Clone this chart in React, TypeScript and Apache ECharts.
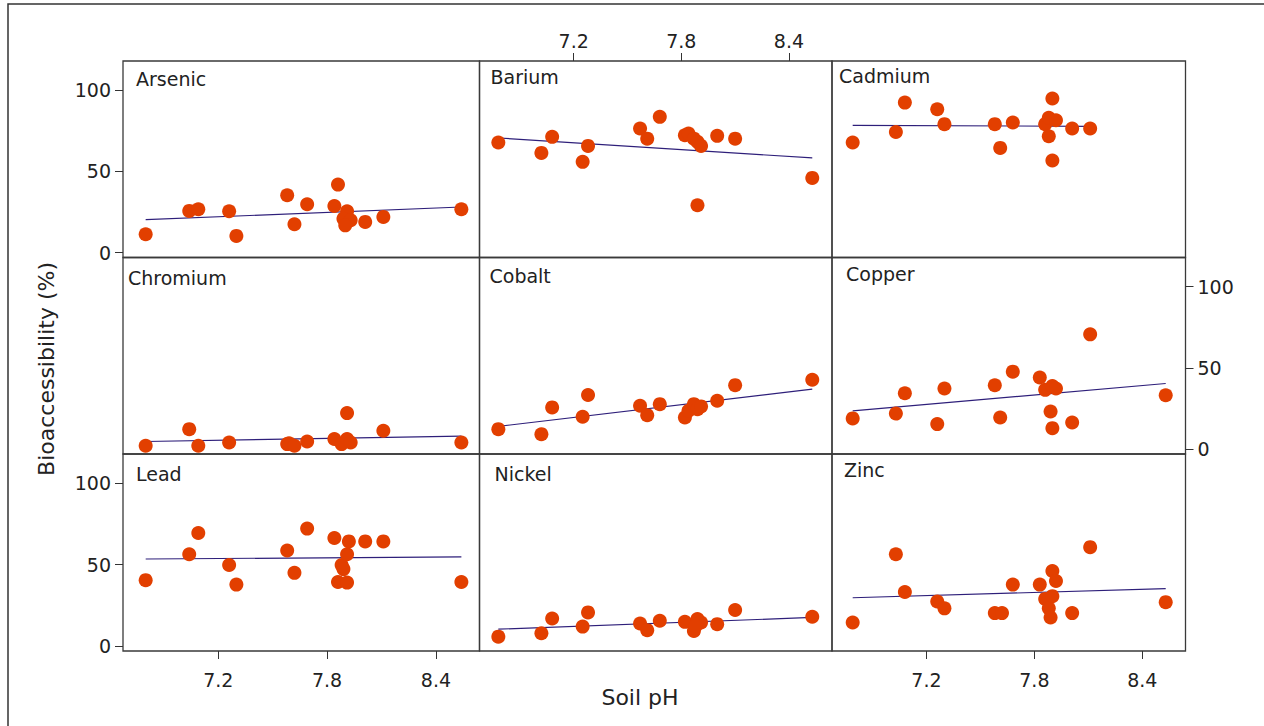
import React, { useEffect, useRef } from "react";
import * as echarts from "echarts";

// ---- data ----
const elements = ["Arsenic", "Barium", "Cadmium", "Chromium", "Cobalt", "Copper", "Lead", "Nickel", "Zinc"];

const phTicks = [7.2, 7.8, 8.4];
const bioTicks = [0, 50, 100];

// [soil pH, bioaccessibility %]
const arsenic = [
  [6.8, 11.3], [7.04, 25.7], [7.09, 26.7], [7.26, 25.5], [7.3, 10.3], [7.58, 35.3], [7.62, 17.5], [7.69, 29.8],
  [7.84, 28.7], [7.86, 41.9], [7.91, 25.5], [7.89, 20.9], [7.93, 19.9], [7.9, 16.8], [8.01, 18.9], [8.11, 22.0], [8.54, 26.7],
];
const barium = [
  [6.78, 67.8], [7.02, 61.4], [7.08, 71.3], [7.25, 55.9], [7.28, 65.7], [7.57, 76.4], [7.61, 70.2], [7.68, 83.6],
  [7.82, 72.3], [7.84, 73.3], [7.87, 70.2], [7.89, 68.2], [7.89, 29.2], [7.91, 65.7], [8.0, 71.9], [8.1, 70.2], [8.53, 46.0],
];
const cadmium = [
  [6.79, 67.8], [7.03, 74.3], [7.08, 92.4], [7.26, 88.3], [7.3, 79.1], [7.58, 79.1], [7.61, 64.5], [7.68, 80.1],
  [7.86, 79.1], [7.88, 83.0], [7.9, 94.9], [7.88, 71.7], [7.9, 56.7], [7.92, 81.5], [8.01, 76.4], [8.11, 76.4],
];
const chromium = [
  [6.8, 2.1], [7.04, 12.3], [7.09, 2.1], [7.26, 4.1], [7.58, 3.1], [7.59, 3.6], [7.62, 2.1], [7.69, 4.7],
  [7.84, 6.2], [7.88, 3.1], [7.91, 22.2], [7.91, 6.2], [7.93, 4.1], [8.11, 11.3], [8.54, 4.1],
];
const cobalt = [
  [6.78, 12.3], [7.02, 9.2], [7.08, 25.7], [7.25, 19.9], [7.28, 33.3], [7.57, 26.7], [7.61, 20.9], [7.68, 27.7],
  [7.82, 19.5], [7.84, 23.6], [7.87, 27.7], [7.89, 24.6], [7.91, 26.3], [8.0, 29.8], [8.1, 39.4], [8.53, 42.7],
];
const copper = [
  [6.79, 18.9], [7.03, 21.9], [7.08, 34.4], [7.26, 15.4], [7.3, 37.3], [7.58, 39.3], [7.61, 19.5], [7.68, 47.7],
  [7.83, 44.1], [7.86, 36.5], [7.9, 38.9], [7.92, 37.3], [7.89, 23.2], [7.9, 12.9], [8.01, 16.4], [8.11, 70.7], [8.53, 33.2],
];
const lead = [
  [6.8, 40.5], [7.04, 56.4], [7.09, 69.5], [7.26, 49.8], [7.3, 37.8], [7.58, 58.7], [7.62, 45.0], [7.69, 72.2],
  [7.84, 66.4], [7.86, 39.4], [7.88, 49.8], [7.89, 47.3], [7.91, 56.4], [7.91, 39.0], [7.92, 64.3], [8.01, 64.3], [8.11, 64.3], [8.54, 39.4],
];
const nickel = [
  [6.78, 5.8], [7.02, 7.9], [7.08, 17.0], [7.25, 12.0], [7.28, 20.7], [7.57, 13.9], [7.61, 9.8], [7.68, 15.6],
  [7.82, 14.9], [7.87, 9.3], [7.89, 16.6], [7.91, 14.5], [7.88, 12.4], [8.0, 13.5], [8.1, 22.2], [8.53, 18.0],
];
const zinc = [
  [6.79, 14.5], [7.03, 56.4], [7.08, 33.2], [7.26, 27.4], [7.3, 23.2], [7.58, 20.3], [7.62, 20.3], [7.68, 37.8],
  [7.83, 37.8], [7.86, 29.0], [7.9, 46.1], [7.92, 40.0], [7.9, 30.7], [7.88, 23.2], [7.89, 17.6], [8.01, 20.3], [8.11, 60.8], [8.53, 27.0],
];

// fitted regression line values at the lowest and highest pH of each element
const fitStart = [20.3, 70.6, 78.4, 4.7, 14.0, 23.6, 53.5, 10.4, 29.7];
const fitEnd = [28.1, 58.3, 77.8, 8.0, 37.0, 40.4, 54.8, 17.6, 35.3];

const elementData = [arsenic, barium, cadmium, chromium, cobalt, copper, lead, nickel, zinc];

// ---- layout ----
const colEdges = [123, 479.5, 832, 1185.5];
const rowEdges = [61, 257.5, 454, 651];
const titleOffsets = [[13, 8], [11, 6], [7, 5], [5, 11], [10, 9], [14, 7], [13, 10], [15, 10], [12, 6]];
const X_MIN = 6.675;
const X_MAX = 8.64;
const Y_MIN = -3;
const Y_MAX = 118;

const FONT = "'DejaVu Sans', Verdana, sans-serif";
const TEXT = "#222";
const POINT = "#E23F00";
const LINE = "#2E1F7A";

export default function App() {
  const ref = useRef<HTMLDivElement>(null);

  useEffect(() => {
    const chart = echarts.init(ref.current!, null, { renderer: "svg" });

    const grids: any[] = [];
    const xAxes: any[] = [];
    const yAxes: any[] = [];
    const series: any[] = [];
    const graphics: any[] = [];

    graphics.push({
      type: "rect",
      shape: { x: 8, y: 4, width: 1270, height: 740 },
      style: { fill: "none", stroke: "#333", lineWidth: 1.5 },
      silent: true,
    });

    elements.forEach((name, i) => {
      const row = Math.floor(i / 3);
      const col = i % 3;
      const left = colEdges[col];
      const top = rowEdges[row];
      const width = colEdges[col + 1] - left;
      const height = rowEdges[row + 1] - top;
      grids.push({
        left,
        top,
        width,
        height,
        show: true,
        borderColor: "#3a3a3a",
        borderWidth: 1.3,
        backgroundColor: "transparent",
      });

      const showX = i === 1 || i === 6 || i === 8;
      const showY = i === 0 || i === 6 || i === 5;

      xAxes.push({
        gridIndex: i,
        type: "value",
        min: X_MIN,
        max: X_MAX,
        position: i === 1 ? "top" : "bottom",
        axisLine: { show: false, onZero: false },
        splitLine: { show: false },
        axisTick: {
          show: showX,
          length: 8,
          customValues: phTicks,
          lineStyle: { color: "#333", width: 1 },
        },
        axisLabel: {
          show: showX,
          customValues: phTicks,
          formatter: (v: number) => v.toFixed(1),
          margin: i === 1 ? 11 : 19,
          fontSize: 19,
          fontFamily: FONT,
          color: TEXT,
        },
      });

      yAxes.push({
        gridIndex: i,
        type: "value",
        min: Y_MIN,
        max: Y_MAX,
        position: i === 5 ? "right" : "left",
        axisLine: { show: false, onZero: false },
        splitLine: { show: false },
        axisTick: {
          show: showY,
          length: 8,
          customValues: bioTicks,
          lineStyle: { color: "#333", width: 1 },
        },
        axisLabel: {
          show: showY,
          customValues: bioTicks,
          margin: 12,
          fontSize: 19,
          fontFamily: FONT,
          color: TEXT,
        },
      });

      const pts = elementData[i];
      const xs = pts.map((p) => p[0]);
      const lo = Math.min(...xs);
      const hi = Math.max(...xs);

      series.push({
        type: "line",
        xAxisIndex: i,
        yAxisIndex: i,
        data: [[lo, fitStart[i]], [hi, fitEnd[i]]],
        symbol: "none",
        lineStyle: { color: LINE, width: 1.2 },
        z: 2,
        silent: true,
      });
      series.push({
        type: "scatter",
        xAxisIndex: i,
        yAxisIndex: i,
        data: pts,
        symbol: "circle",
        symbolSize: 14,
        itemStyle: { color: POINT, opacity: 1 },
        z: 3,
      });

      graphics.push({
        type: "text",
        x: left + titleOffsets[i][0],
        y: top + titleOffsets[i][1],
        style: {
          text: name,
          font: `19px ${FONT}`,
          fill: TEXT,
          textAlign: "left",
          textVerticalAlign: "top",
        },
        silent: true,
      });
    });

    graphics.push({
      type: "text",
      x: 46,
      y: 369,
      rotation: Math.PI / 2,
      style: {
        text: "Bioaccessibility (%)",
        font: `22px ${FONT}`,
        fill: TEXT,
        textAlign: "center",
        textVerticalAlign: "middle",
      },
      silent: true,
    });
    graphics.push({
      type: "text",
      x: 640,
      y: 697,
      style: {
        text: "Soil pH",
        font: `22px ${FONT}`,
        fill: TEXT,
        textAlign: "center",
        textVerticalAlign: "middle",
      },
      silent: true,
    });

    chart.setOption({
      animation: false,
      backgroundColor: "#fff",
      grid: grids,
      xAxis: xAxes,
      yAxis: yAxes,
      series,
      graphic: graphics,
    });

    return () => chart.dispose();
  }, []);

  return (
    <div
      ref={ref}
      style={{ position: "fixed", left: 0, top: 0, width: 1264, height: 726, background: "#fff" }}
    />
  );
}
